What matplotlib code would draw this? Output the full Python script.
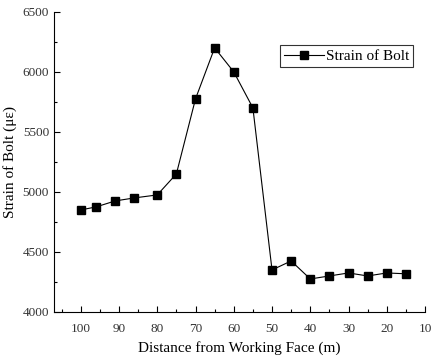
import numpy as np
import matplotlib
matplotlib.use("Agg")
import matplotlib.pyplot as plt
from matplotlib.ticker import MultipleLocator

distance = [100, 96, 91, 86, 80, 75, 70, 65, 60, 55, 50, 45, 40, 35, 30, 25, 20, 15]
strain = [4850, 4875, 4925, 4950, 4975, 5150, 5775, 6200, 6000, 5700,
          4350, 4425, 4275, 4300, 4325, 4300, 4325, 4318]

plt.rcParams["font.family"] = ["Liberation Serif", "DejaVu Serif"]

fig = plt.figure(figsize=(4.46, 3.59), dpi=100)
ax = fig.add_axes([0.121, 0.131, 0.832, 0.836])

ax.plot(distance, strain, color="black", lw=0.8, marker="s", ms=5.5,
        label="Strain of Bolt")

ax.set_xlim(107, 10)
ax.set_ylim(4000, 6500)
ax.xaxis.set_major_locator(MultipleLocator(10))
ax.xaxis.set_minor_locator(MultipleLocator(5))
ax.yaxis.set_major_locator(MultipleLocator(500))
ax.yaxis.set_minor_locator(MultipleLocator(250))

ax.spines["top"].set_visible(False)
ax.spines["right"].set_visible(False)
ax.tick_params(which="major", direction="in", length=4, width=0.8, labelsize=9.5,
               labelcolor="#333333")
ax.tick_params(which="minor", direction="in", length=2.5, width=0.8)
ax.tick_params(axis="x", pad=8)

ax.set_xlabel("Distance from Working Face (m)", fontsize=11)
ax.set_ylabel("Strain of Bolt (\u03bc\u03b5)", fontsize=11)

leg = ax.legend(loc="upper right", bbox_to_anchor=(0.968, 0.888), fontsize=11,
                frameon=True, fancybox=False, edgecolor="black",
                handlelength=2.6, borderpad=0.25, handletextpad=0.15,
                borderaxespad=0)
leg.get_frame().set_linewidth(0.8)

fig.savefig("out.png", dpi=100)
